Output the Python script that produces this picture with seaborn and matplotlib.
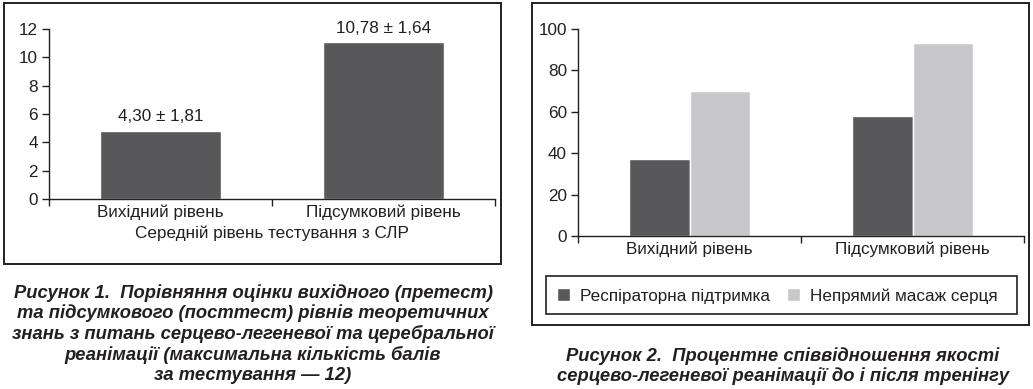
import matplotlib
matplotlib.use("Agg")
import matplotlib.pyplot as plt
import seaborn as sns
import pandas as pd
from matplotlib.patches import Rectangle
from matplotlib.ticker import FixedLocator

# ---- data ----
levels = ["Вихідний рівень", "Підсумковий рівень"]
scores = [4.8, 11.05]
score_labels = ["4,30 ± 1,81", "10,78 ± 1,64"]
score_ticks = [0, 2, 4, 6, 8, 10, 12]

series = ["Респіраторна підтримка", "Непрямий масаж серця"]
resp_values = [37, 58]
massage_values = [70, 93]
pct_ticks = [0, 20, 40, 60, 80, 100]

xlabel1 = "Середній рівень тестування з СЛР"
caption1 = ("Рисунок 1.  Порівняння оцінки вихідного (претест)\n"
            "та підсумкового (посттест) рівнів теоретичних\n"
            "знань з питань серцево-легеневої та церебральної\n"
            "реанімації (максимальна кількість балів\n"
            "за тестування — 12)")
caption2 = ("Рисунок 2.  Процентне співвідношення якості\n"
            "серцево-легеневої реанімації до і після тренінгу")

# ---- style ----
sns.set_style("white")
plt.rcParams["font.family"] = ["Liberation Sans", "DejaVu Sans"]
TXT = "#231f20"
DARK = "#58585a"
LIGHT = "#c8c8ca"
FS = 12.3
CFS = 13.2

W, H = 1033, 389
fig = plt.figure(figsize=(W / 100, H / 100), dpi=100)

def fx(px):
    return px / W

def fy(py):
    return 1 - py / H

# frames (panel borders and legend box)
for (x0, y0, x1, y1, lw) in [(4, 3, 501, 264, 1.4), (532, 3, 1029, 325, 1.4),
                             (546, 276, 1017, 314, 1.2)]:
    fig.patches.append(Rectangle((fx(x0), fy(y1)), fx(x1 - x0), (y1 - y0) / H,
                                 transform=fig.transFigure, fill=False,
                                 edgecolor=TXT, linewidth=lw))

def style_axes(ax, ticks, ymax):
    ax.set_xlim(-0.5, 1.5)
    ax.set_ylim(0, ymax)
    ax.set_yticks(ticks)
    ax.set_yticklabels([str(t) for t in ticks])
    for s in ["top", "right"]:
        ax.spines[s].set_visible(False)
    for s in ["left", "bottom"]:
        ax.spines[s].set_color(TXT)
        ax.spines[s].set_linewidth(1.0)
    ax.tick_params(axis="y", which="major", left=True, length=5, width=1.0,
                   color=TXT, labelsize=FS, labelcolor=TXT, pad=3)
    ax.tick_params(axis="x", which="major", bottom=False, length=0,
                   labelsize=FS, labelcolor=TXT, pad=4)
    ax.xaxis.set_minor_locator(FixedLocator([-0.5, 0.5, 1.5]))
    ax.tick_params(axis="x", which="minor", bottom=True, length=5, width=1.0,
                   color=TXT)
    ax.set_ylabel("")

# ---- left chart ----
ax1 = fig.add_axes([fx(49), fy(199), fx(446), 170 / H])
df1 = pd.DataFrame({"level": levels, "score": scores})
sns.barplot(data=df1, x="level", y="score", color=DARK, width=0.54,
            saturation=1, ax=ax1)
style_axes(ax1, score_ticks, 12)
ax1.set_xlabel(xlabel1, fontsize=FS, color=TXT, labelpad=4)
for i, (v, lab) in enumerate(zip(scores, score_labels)):
    ax1.annotate(lab, (i, v), xytext=(0, 5), textcoords="offset points",
                 ha="center", va="bottom", fontsize=FS, color=TXT,
                 annotation_clip=False)

# ---- right chart ----
ax2 = fig.add_axes([fx(578), fy(236), fx(446), 207 / H])
df2 = pd.DataFrame({
    "level": levels * 2,
    "series": [series[0]] * 2 + [series[1]] * 2,
    "value": resp_values + massage_values,
})
sns.barplot(data=df2, x="level", y="value", hue="series",
            palette=[DARK, LIGHT], width=0.54, saturation=1, ax=ax2)
style_axes(ax2, pct_ticks, 100)
ax2.set_xlabel("")
ax2.get_legend().remove()
handles, labels_ = ax2.get_legend_handles_labels()
leg = fig.legend(handles, labels_, loc="center left",
                 bbox_to_anchor=(fx(557), fy(296)),
                 ncol=2, frameon=False,
                 fontsize=FS, handlelength=0.76, handleheight=0.76,
                 handletextpad=0.58, columnspacing=1.0, borderpad=0,
                 borderaxespad=0)
for t in leg.get_texts():
    t.set_color(TXT)

# ---- captions ----
fig.text(fx(253), fy(284), caption1, ha="center", va="top", fontsize=CFS,
         fontweight="bold", fontstyle="italic", color=TXT, linespacing=1.2)
fig.text(fx(783), fy(347), caption2, ha="center", va="top", fontsize=CFS,
         fontweight="bold", fontstyle="italic", color=TXT, linespacing=1.15)

fig.savefig("out.png", dpi=100)
